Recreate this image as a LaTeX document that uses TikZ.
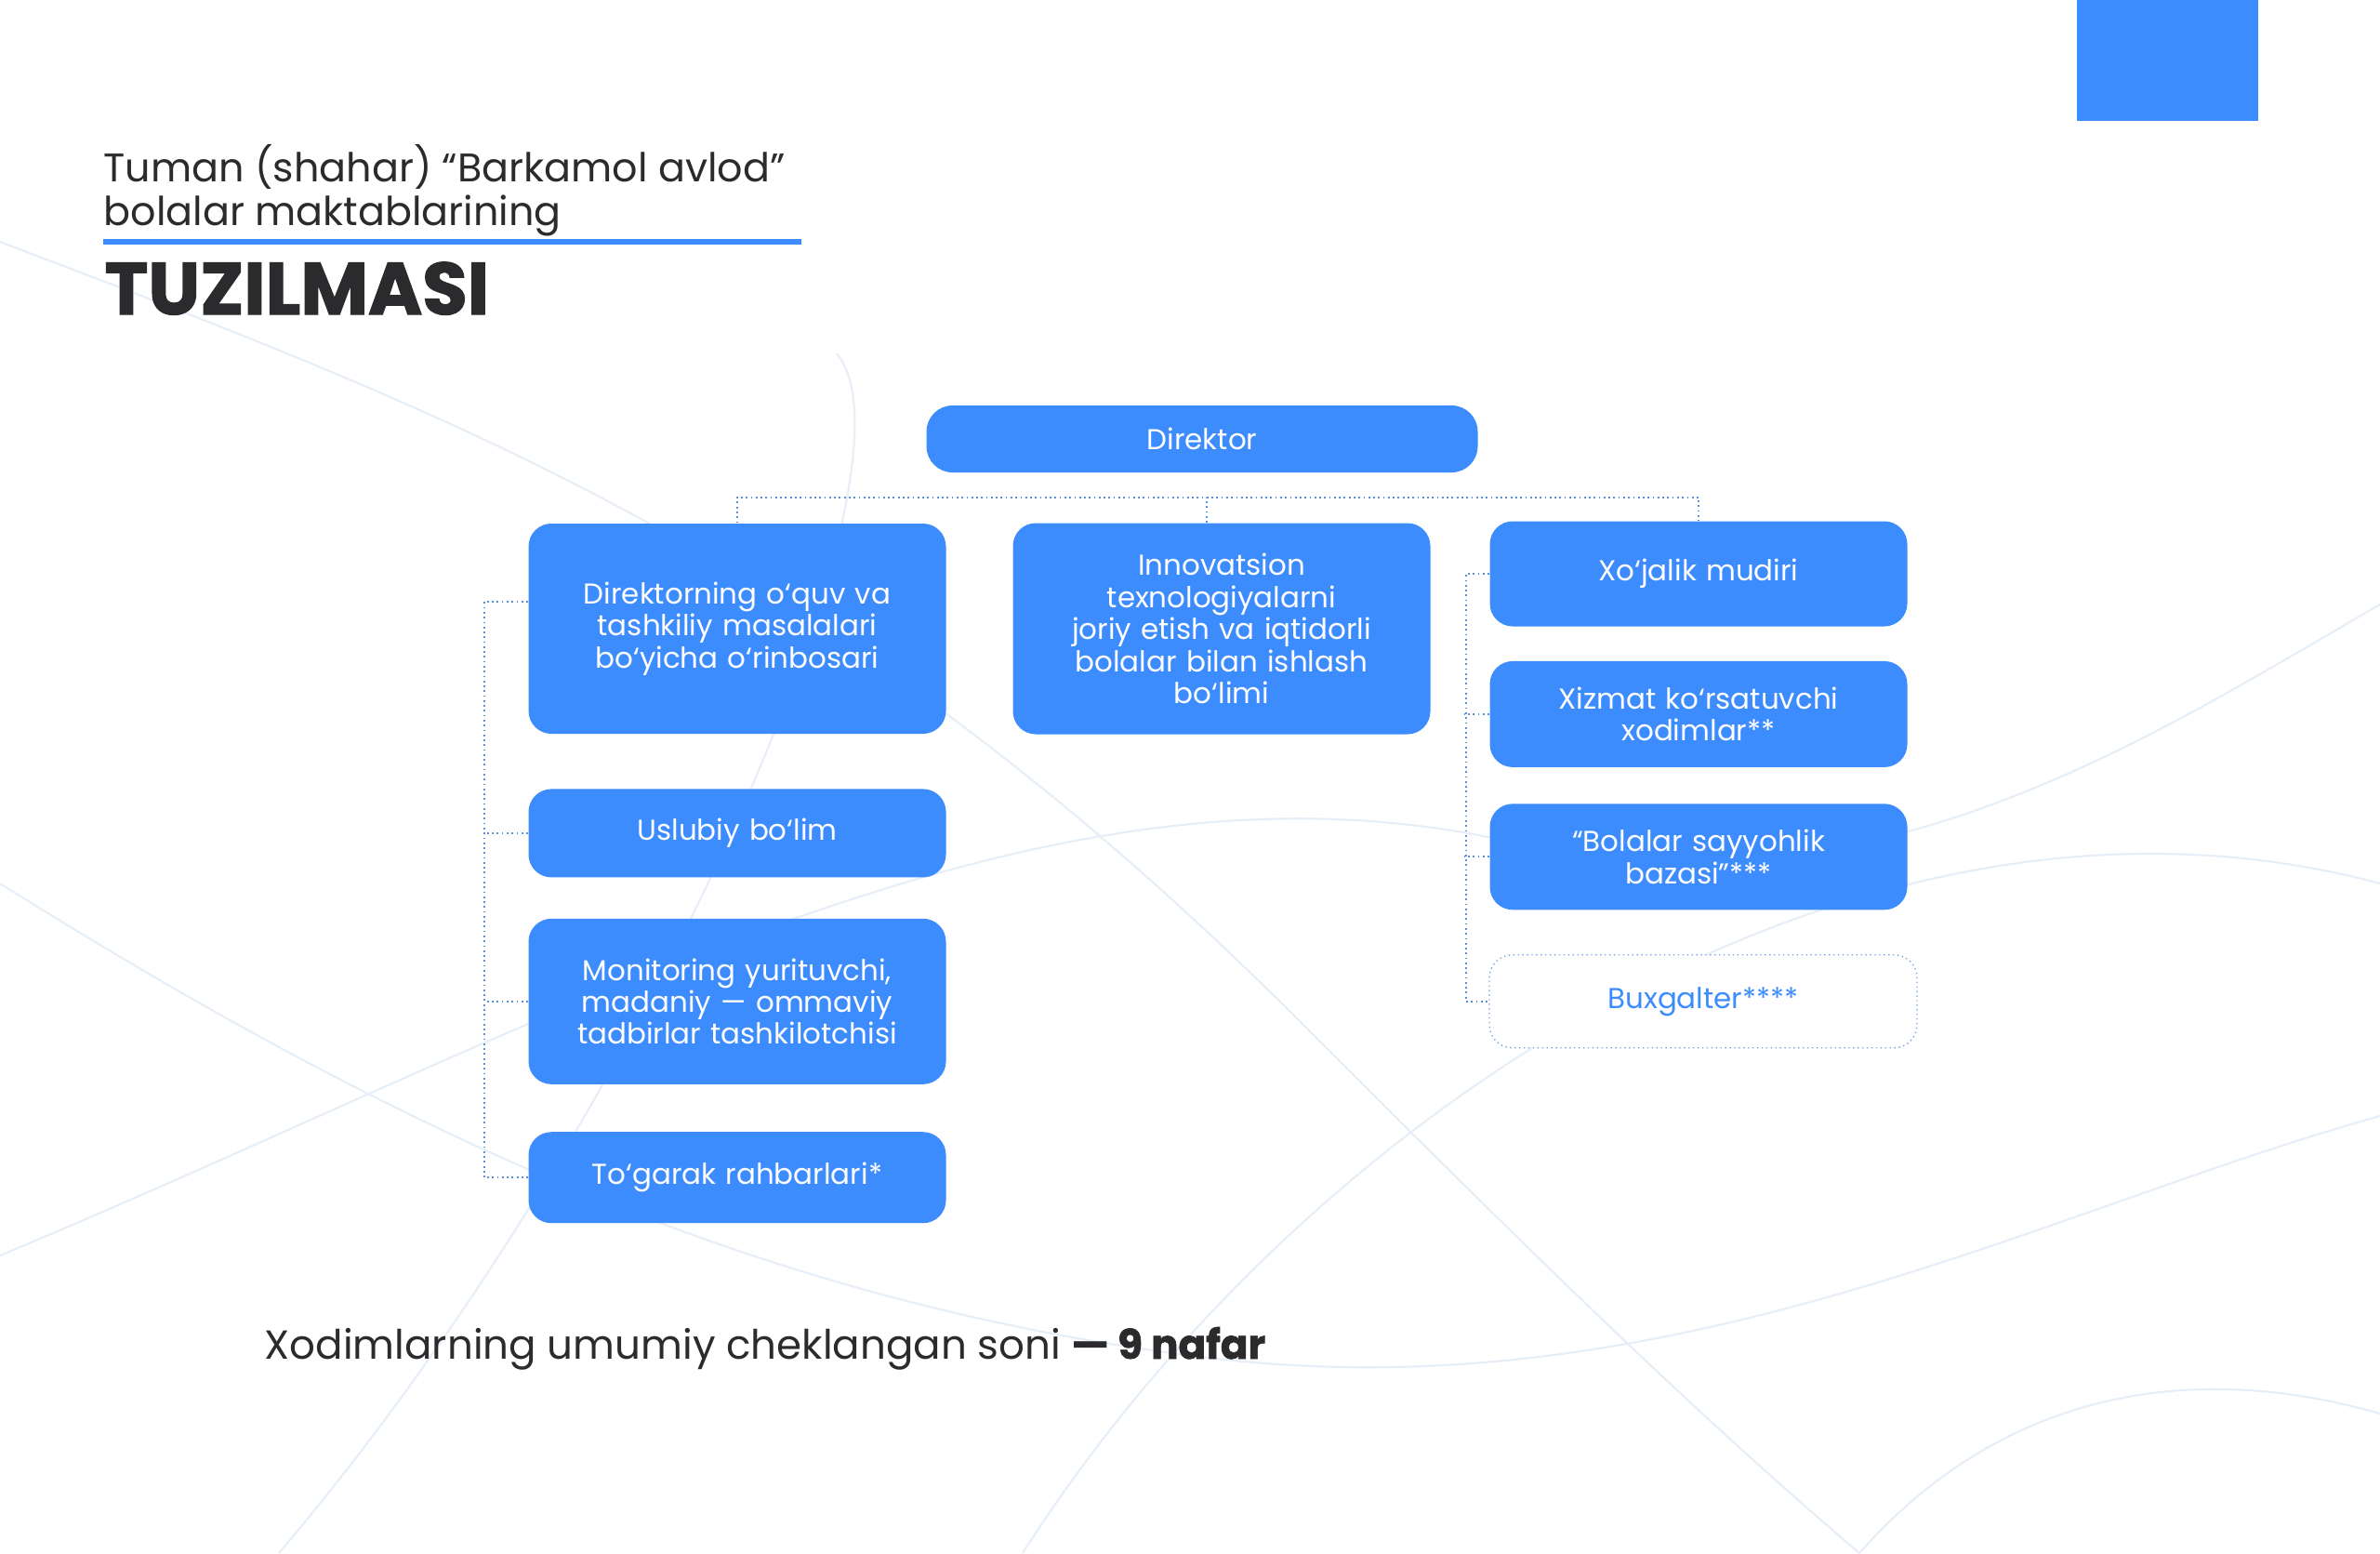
\documentclass[tikz,border=0pt]{standalone}
\usepackage{fontspec}
\setmainfont{Poppins}
\newfontfamily\heavyfont{Poppins}[BoldFeatures={FakeBold=1.6}]
\usepackage{tikz}
\usetikzlibrary{positioning,calc}
\definecolor{bkblue}{HTML}{3D8CFE}
\definecolor{bkink}{HTML}{2B2B2E}
\definecolor{bkline}{HTML}{5A8FDB}
\definecolor{bkwave}{HTML}{E6EEF8}
\tikzset{
  unit/.style={fill=bkblue,rounded corners=7pt,minimum width=44.9mm,text width=40mm,align=center,text=white,font=\fontsize{8.8}{9.8}\selectfont,inner sep=2pt},
  head/.style={unit,minimum width=59.3mm,minimum height=7.2mm,rounded corners=8pt},
  ghost/.style={unit,fill=white,draw=bkline!80,densely dotted,text=bkblue},
  conn/.style={draw=bkline,densely dotted,line width=0.5pt},
  wave/.style={draw=bkwave,line width=0.6pt},
}
\begin{document}
\begin{tikzpicture}
  \useasboundingbox (0,0) rectangle (25.6,-16.7);
  \fill[white] (0,0) rectangle (25.6,-16.7);
  % faint background curves
  \draw[wave] (0,-2.6) .. controls (5,-4.5) and (9,-6) .. (14,-11) .. controls (16,-13) and (18,-15) .. (20,-16.7);
  \draw[wave] (0,-13.5) .. controls (6,-11) and (11,-8) .. (16,-9) .. controls (20,-10) and (23,-8) .. (25.6,-6.5);
  \draw[wave] (3,-16.7) .. controls (7,-12) and (10,-5) .. (9,-3.8);
  \draw[wave] (11,-16.7) .. controls (14,-12) and (20,-8) .. (25.6,-9.5);
  \draw[wave] (0,-9.5) .. controls (4,-12) and (8,-14) .. (13,-14.6) .. controls (18,-15.2) and (22,-13) .. (25.6,-12);
  \draw[wave] (20,-16.7) .. controls (21.5,-15) and (23.5,-14.6) .. (25.6,-15.2);
  % corner mark
  \fill[bkblue] (22.34,0) rectangle (24.29,-1.30);
  % heading
  \node[anchor=base west,align=left,text=bkink,font=\fontsize{12.2}{13.2}\selectfont,inner sep=0pt] (subtitle) at (1.11,-2.42) {Tuman (shahar) “Barkamol avlod”\\bolalar maktablarining};
  \draw[bkblue,line width=1.5pt] (1.11,-2.60) -- (8.62,-2.60);
  \node[anchor=base west,text=bkink,font=\fontsize{22.5}{24}\heavyfont\bfseries,inner sep=0pt] (title) at (1.12,-3.38) {TUZILMASI};
  % chart
  \node[head] (dir) at (12.93,-4.72) {Direktor};
  \node[unit,minimum height=22.6mm] (dep) at (7.93,-6.76) {Direktorning o‘quv va\\tashkiliy masalalari\\bo‘yicha o‘rinbosari\\[7mm]};
  \node[unit,minimum height=22.7mm] (inn) at (13.14,-6.76) {Innovatsion\\texnologiyalarni\\joriy etish va iqtidorli\\bolalar bilan ishlash\\bo‘limi};
  \node[unit,minimum height=11.3mm] (xoj) at (18.27,-6.17) {Xo‘jalik mudiri};
  \node[unit,minimum height=11.4mm,below=3.6mm of xoj] (xiz) {Xizmat ko‘rsatuvchi\\xodimlar**};
  \node[unit,minimum height=11.4mm,below=3.8mm of xiz] (say) {“Bolalar sayyohlik\\bazasi”***};
  \node[ghost,minimum height=10mm,minimum width=46mm,below=4.7mm of say,xshift=0.5mm] (bux) {Buxgalter****};
  \node[unit,minimum height=9.5mm,below=5.8mm of dep] (usl) {Uslubiy bo‘lim};
  \node[unit,minimum height=17.8mm,below=4.3mm of usl] (mon) {Monitoring yurituvchi,\\madaniy — ommaviy\\tadbirlar tashkilotchisi};
  \node[unit,minimum height=9.8mm,below=5mm of mon] (tog) {To‘garak rahbarlari*};
  \coordinate (bar) at ($(dir.south)+(0.05,-0.26)$);
  \draw[conn] (dep.north) |- (bar) -| (xoj.north);
  \draw[conn] (inn.north -| bar) -- (bar);
  \draw[conn] ([yshift=2.9mm]dep.west) -- ++(-0.47,0) |- (tog.west);
  \foreach \n in {usl,mon}
    \draw[conn] (\n.west) -- ++(-0.47,0);
  \draw[conn] (xoj.west) -- ++(-0.25,0) |- (bux.west);
  \foreach \n in {xiz,say}
    \draw[conn] (\n.west) -- ++(-0.27,0);
  % staff count
  \node[anchor=base west,text=bkink,font=\fontsize{12.4}{14}\selectfont,inner sep=0pt] (total) at (2.84,-14.61) {Xodimlarning umumiy cheklangan soni {\heavyfont\bfseries — 9 nafar}};
\end{tikzpicture}
\end{document}
